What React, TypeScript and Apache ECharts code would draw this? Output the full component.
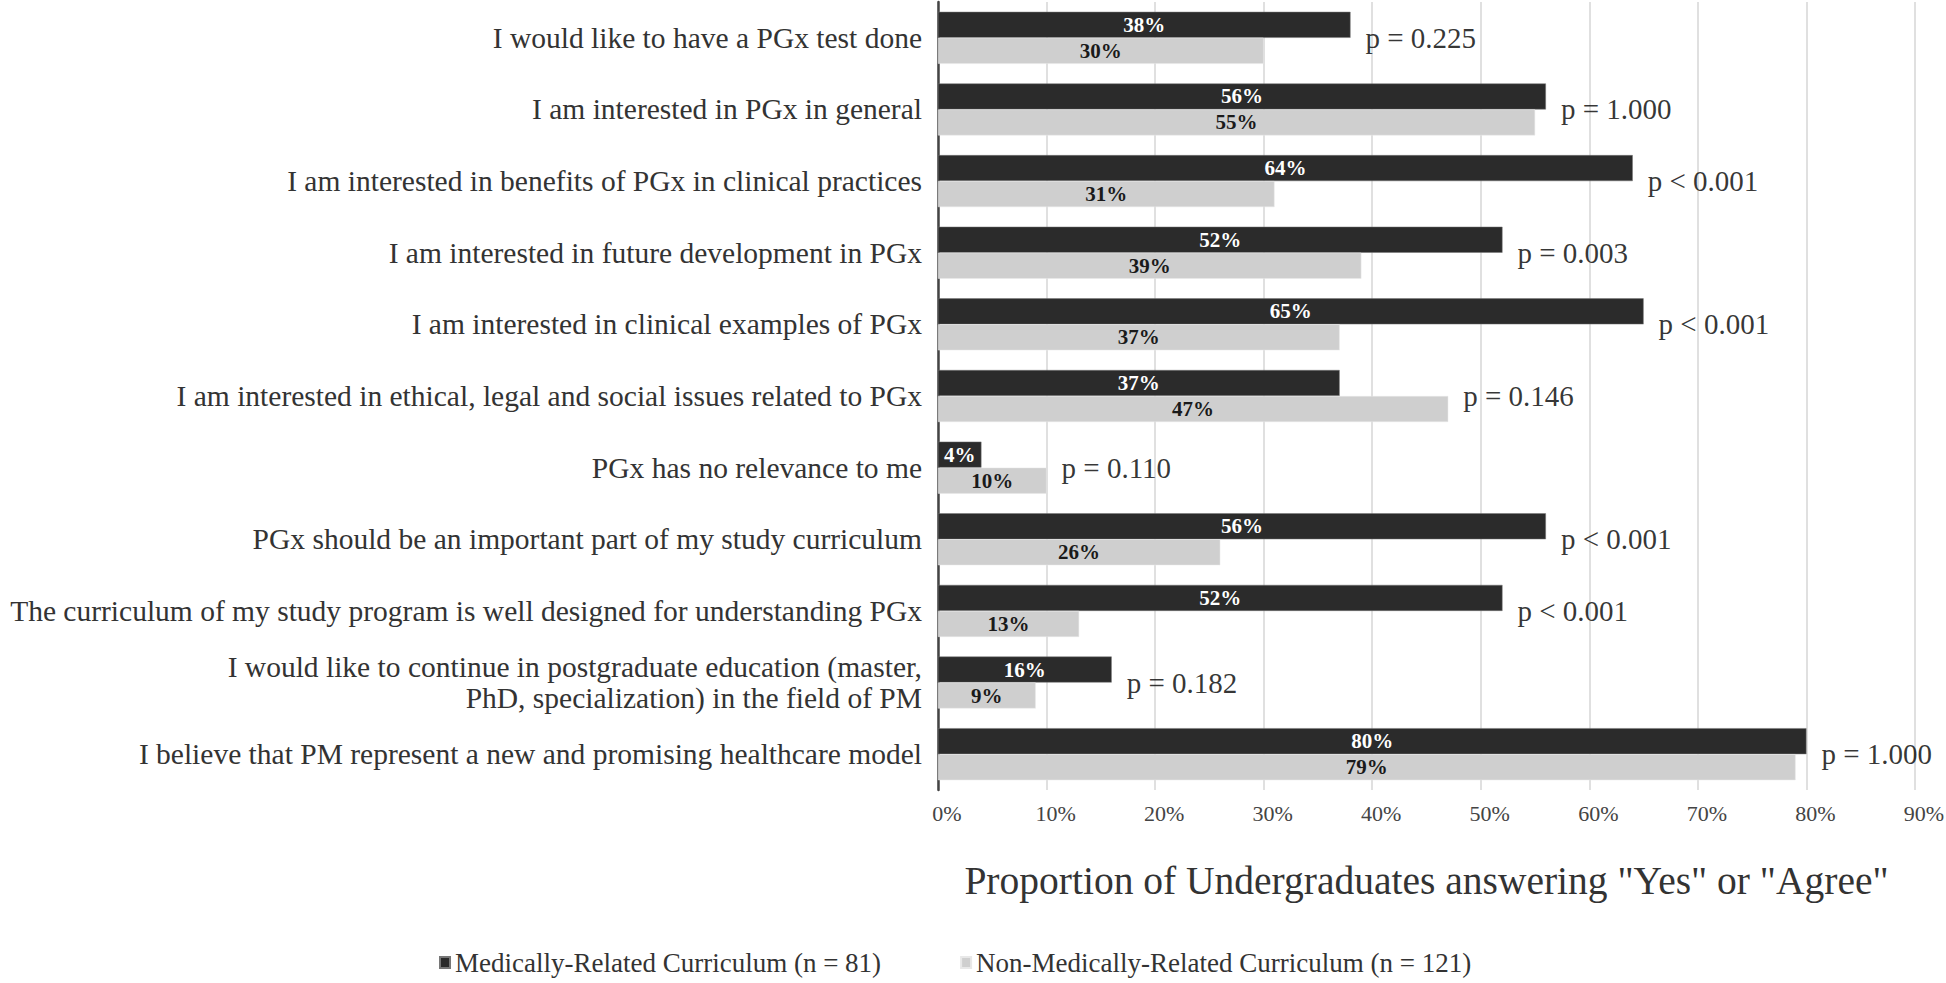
import React, { useEffect, useRef } from "react";
import * as echarts from "echarts";

const categories = [
  "I would like to have a PGx test done",
  "I am interested in PGx in general",
  "I am interested in benefits of PGx in clinical practices",
  "I am interested in future development in PGx",
  "I am interested in clinical examples of PGx",
  "I am interested in ethical, legal and social issues related to PGx",
  "PGx has no relevance to me",
  "PGx should be an important part of my study curriculum",
  "The curriculum of my study program is well designed for understanding PGx",
  "I would like to continue in postgraduate education (master,\nPhD, specialization) in the field of PM",
  "I believe that PM represent a new and promising healthcare model",
];

const medical = [38, 56, 64, 52, 65, 37, 4, 56, 52, 16, 80];
const nonMedical = [30, 55, 31, 39, 37, 47, 10, 26, 13, 9, 79];
const pValues = [
  "p = 0.225",
  "p = 1.000",
  "p < 0.001",
  "p = 0.003",
  "p < 0.001",
  "p = 0.146",
  "p = 0.110",
  "p < 0.001",
  "p < 0.001",
  "p = 0.182",
  "p = 1.000",
];

const seriesNames = [
  "Medically-Related Curriculum (n = 81)",
  "Non-Medically-Related Curriculum (n = 121)",
];
const axisTitle = 'Proportion of Undergraduates answering "Yes" or "Agree"';

const FONT = "'Liberation Serif', 'Times New Roman', serif";

export default function App() {
  const ref = useRef<HTMLDivElement>(null);
  useEffect(() => {
    if (!ref.current) return;
    const chart = echarts.init(ref.current, null, { renderer: "svg" });
    const pData = medical.map((m, i) => [Math.max(m, nonMedical[i]), i]);
    chart.setOption({
      animation: false,
      backgroundColor: "#ffffff",
      textStyle: { fontFamily: FONT },
      grid: {
        left: 938,
        top: 2,
        width: 977,
        height: 788,
        containLabel: false,
        outerBoundsMode: "none",
      },
      legend: {
        data: seriesNames,
        left: 434,
        top: 944,
        icon: "rect",
        itemWidth: 10,
        itemHeight: 11,
        itemGap: 79,
        textStyle: { fontFamily: FONT, fontSize: 27, color: "#333" },
      },
      xAxis: {
        type: "value",
        min: 0,
        max: 90,
        interval: 10,
        axisLine: { show: false },
        axisTick: { show: false },
        splitLine: { show: true, lineStyle: { color: "#d6d6d6", width: 1.5 } },
        axisLabel: {
          formatter: "{value}%",
          fontFamily: FONT,
          fontSize: 22,
          color: "#444",
          margin: 12,
          padding: [0, 0, 0, 18],
        },
        name: axisTitle,
        nameLocation: "middle",
        nameGap: 71,
        nameTextStyle: { fontFamily: FONT, fontSize: 39.5, color: "#333" },
      },
      yAxis: {
        type: "category",
        inverse: true,
        data: categories,
        axisLine: { show: true, lineStyle: { color: "#444", width: 2.5 } },
        axisTick: { show: false },
        axisLabel: {
          fontFamily: FONT,
          fontSize: 29.5,
          lineHeight: 31,
          color: "#333",
          margin: 16,
        },
      },
      series: [
        {
          name: seriesNames[0],
          type: "bar",
          data: medical,
          barWidth: 26,
          barGap: "0%",
          itemStyle: { color: "#2b2b2b", borderColor: "#777", borderWidth: 0.5 },
          label: {
            show: true,
            position: "inside",
            formatter: "{c}%",
            color: "#ffffff",
            fontFamily: FONT,
            fontWeight: "bold",
            fontSize: 21,
          },
        },
        {
          name: seriesNames[1],
          type: "bar",
          data: nonMedical,
          barWidth: 26,
          barGap: "0%",
          itemStyle: { color: "#cfcfcf", borderColor: "#e8e8e8", borderWidth: 0.5 },
          label: {
            show: true,
            position: "inside",
            formatter: "{c}%",
            color: "#1a1a1a",
            fontFamily: FONT,
            fontWeight: "bold",
            fontSize: 21,
          },
        },
        {
          name: "p",
          type: "scatter",
          data: pData,
          symbolSize: 2,
          itemStyle: { color: "rgba(0,0,0,0)" },
          silent: true,
          z: 5,
          label: {
            show: true,
            position: "right",
            distance: 14,
            offset: [0, 4],
            formatter: (p: any) => pValues[p.dataIndex],
            fontFamily: FONT,
            fontSize: 29,
            color: "#000",
          },
          labelLayout: { hideOverlap: false },
        },
      ],
    });
    return () => chart.dispose();
  }, []);
  return (
    <div
      ref={ref}
      style={{ position: "absolute", left: 0, top: 0, width: 1946, height: 983 }}
    />
  );
}
